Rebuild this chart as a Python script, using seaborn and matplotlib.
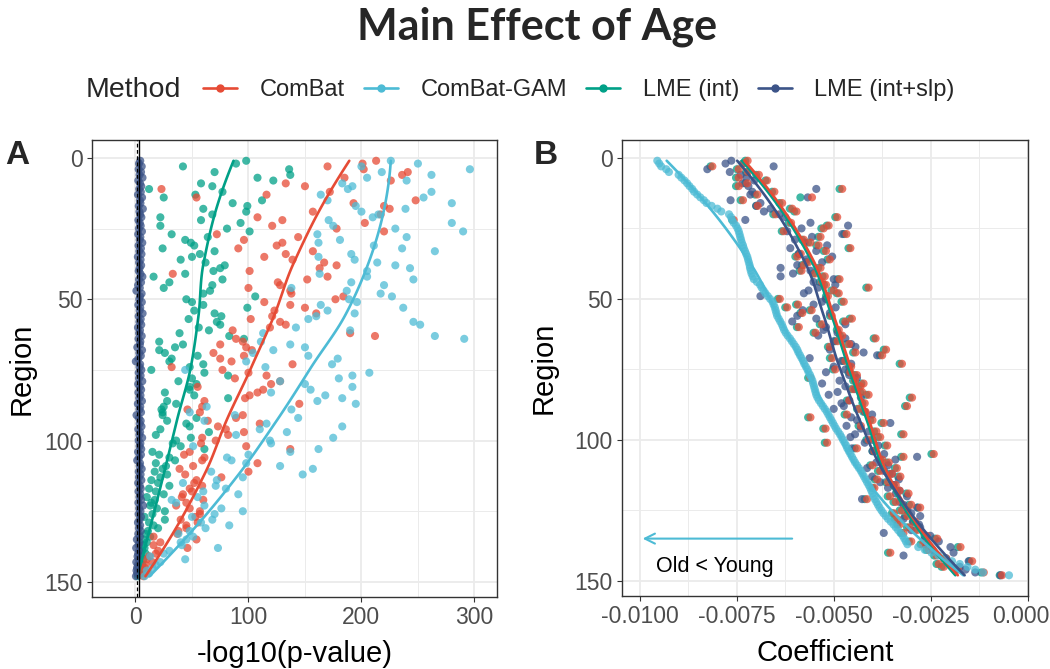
import numpy as np
import pandas as pd
import matplotlib
matplotlib.use("Agg")
import matplotlib.pyplot as plt
import seaborn as sns
from matplotlib.lines import Line2D

# ---------------- data ----------------
methods = ["ComBat", "ComBat-GAM", "LME (int)", "LME (int+slp)"]
palette = {"ComBat": "#E64B35", "ComBat-GAM": "#4DBBD5",
           "LME (int)": "#00A087", "LME (int+slp)": "#3C5488"}
regions = list(range(1, 149))

# Panel A: -log10(p-value)
p_combat = [213, 201, 170, 202, 241, 236, 185, 226, 133, 150,
            23, 172, 116, 54, 248, 193, 220, 225, 157, 217,
            108, 130, 203, 121, 178, 220, 72, 144, 96, 130,
            125, 91, 157, 133, 114, 139, 167, 178, 163, 101,
            33, 170, 152, 126, 128, 100, 137, 138, 184, 177,
            114, 137, 150, 123, 160, 121, 102, 128, 133, 119,
            86, 190, 212, 89, 95, 75, 98, 103, 69, 96,
            75, 85, 139, 32, 77, 100, 116, 88, 128, 120,
            55, 113, 108, 101, 97, 61, 145, 59, 46, 57,
            95, 89, 64, 110, 73, 80, 96, 82, 59, 71,
            58, 98, 137, 48, 43, 61, 59, 108, 51, 39,
            100, 44, 76, 54, 52, 59, 48, 50, 42, 41,
            60, 45, 36, 48, 57, 57, 53, 40, 55, 45,
            45, 38, 37, 16, 54, 22, 16, 46, 20, 18,
            12, 10, 15, 9, 8, 6, 11, 7]
p_gam = [226, 250, 200, 296, 218, 262, 205, 240, 183, 192,
         188, 262, 164, 255, 170, 280, 195, 239, 200, 215,
         210, 171, 280, 175, 230, 290, 161, 240, 181, 162,
         211, 236, 265, 191, 162, 194, 214, 230, 243, 205,
         163, 205, 246, 191, 220, 138, 187, 217, 227, 189,
         196, 164, 237, 170, 194, 160, 153, 246, 252, 142,
         190, 113, 265, 291, 111, 137, 150, 122, 104, 153,
         179, 98, 174, 115, 44, 207, 192, 180, 128, 150,
         192, 155, 120, 168, 183, 161, 195, 63, 138, 48,
         88, 144, 61, 116, 183, 110, 134, 89, 175, 119,
         120, 51, 162, 137, 100, 81, 85, 98, 128, 157,
         67, 148, 95, 72, 42, 71, 80, 60, 91, 55,
         32, 36, 61, 76, 95, 70, 50, 68, 58, 83,
         62, 48, 38, 51, 45, 40, 41, 73, 30, 25,
         13, 44, 22, 18, 15, 10, 12, 8]
p_lme_int = [98, 89, 42, 136, 70, 137, 108, 122, 58, 68,
             12, 77, 53, 25, 112, 86, 99, 60, 98, 68,
             22, 58, 93, 22, 81, 101, 32, 64, 44, 49,
             52, 24, 70, 57, 50, 40, 62, 79, 75, 69,
             44, 16, 77, 30, 68, 25, 66, 60, 106, 45,
             50, 60, 99, 52, 70, 76, 47, 72, 75, 56,
             65, 39, 83, 96, 21, 42, 35, 21, 26, 55,
             32, 30, 60, 48, 14, 61, 82, 50, 38, 54,
             48, 48, 26, 52, 82, 28, 36, 25, 23, 24,
             24, 54, 28, 45, 48, 22, 65, 18, 49, 36,
             33, 40, 61, 15, 21, 30, 35, 18, 27, 24,
             17, 28, 22, 14, 20, 30, 12, 18, 25, 10,
             17, 14, 13, 19, 26, 15, 8, 26, 12, 16,
             20, 11, 9, 13, 7, 10, 7, 8, 6, 9,
             5, 7, 4, 6, 3, 4, 5, 2]
p_lme_slp = [4.2, 3.1, 5.5, 2.8, 4.9, 3.6, 6.2, 2.5, 4.0, 5.1,
             3.3, 4.7, 2.2, 5.8, 3.9, 4.4, 2.9, 6.5, 3.5, 4.1,
             5.2, 2.6, 3.8, 4.6, 3.0, 5.7, 2.4, 4.3, 3.7, 6.0,
             2.7, 4.8, 3.4, 5.3, 2.1, 4.5, 3.2, 5.0, 3.6, 2.9,
             4.4, 6.1, 3.1, 4.9, 2.3, 3.8, 0.8, 5.4, 4.0, 3.3,
             5.6, 2.5, 4.2, 3.7, 6.3, 2.8, 4.6, 3.5, 5.1, 2.2,
             4.0, 3.2, 5.5, 2.7, 4.3, 3.9, 1.6, 5.8, 3.4, 4.7,
             2.6, 0.3, 4.1, 3.6, 5.2, 2.9, 4.5, 3.1, 6.0, 2.4,
             3.8, 5.0, 2.6, 4.4, 3.3, 5.7, 2.1, 4.2, 3.5, 4.9,
             0.9, 3.0, 4.6, 3.7, 5.3, 2.5, 4.1, 3.4, 5.9, 2.8,
             4.3, 3.6, 5.1, 2.3, 4.8, 3.2, 1.5, 4.0, 3.7, 5.5,
             2.9, 4.5, 3.1, 5.2, 2.4, 3.8, 4.7, 2.7, 4.2, 3.5,
             5.0, 2.6, 6.8, 3.3, 4.4, 2.8, 4.9, 3.6, 2.2, 4.1,
             3.0, 4.6, 2.5, 3.9, 1.2, 3.4, 2.7, 0.6, 3.2, 2.4,
             1.8, 2.9, 0.7, 2.2, 1.4, 0.9, 1.6, 0.4]

# Panel B: coefficient
c_combat = [-0.00722, -0.00732, -0.00813, -0.00745, -0.00721, -0.00693, -0.00745, -0.00672, -0.00723, -0.00745,
            -0.00478, -0.00653, -0.00697, -0.00556, -0.00734, -0.00633, -0.00696, -0.00607, -0.00596, -0.00650,
            -0.00491, -0.00758, -0.00610, -0.00513, -0.00526, -0.00629, -0.00467, -0.00534, -0.00577, -0.00560,
            -0.00539, -0.00457, -0.00520, -0.00585, -0.00594, -0.00510, -0.00565, -0.00577, -0.00534, -0.00583,
            -0.00548, -0.00523, -0.00485, -0.00530, -0.00520, -0.00410, -0.00500, -0.00487, -0.00515, -0.00639,
            -0.00474, -0.00592, -0.00620, -0.00557, -0.00581, -0.00505, -0.00453, -0.00470, -0.00530, -0.00590,
            -0.00487, -0.00547, -0.00478, -0.00392, -0.00490, -0.00460, -0.00510, -0.00365, -0.00444, -0.00375,
            -0.00504, -0.00470, -0.00324, -0.00455, -0.00496, -0.00457, -0.00440, -0.00560, -0.00445, -0.00423,
            -0.00431, -0.00450, -0.00427, -0.00410, -0.00298, -0.00460, -0.00420, -0.00311, -0.00435, -0.00418,
            -0.00466, -0.00560, -0.00400, -0.00371, -0.00430, -0.00521, -0.00390, -0.00320, -0.00380, -0.00410,
            -0.00517, -0.00362, -0.00440, -0.00395, -0.00242, -0.00320, -0.00375, -0.00358, -0.00400, -0.00337,
            -0.00380, -0.00350, -0.00328, -0.00388, -0.00360, -0.00340, -0.00395, -0.00330, -0.00307, -0.00355,
            -0.00414, -0.00340, -0.00300, -0.00277, -0.00324, -0.00345, -0.00310, -0.00337, -0.00290, -0.00330,
            -0.00305, -0.00285, -0.00320, -0.00260, -0.00233, -0.00300, -0.00270, -0.00173, -0.00255, -0.00354,
            -0.00235, -0.00210, -0.00143, -0.00229, -0.00216, -0.00180, -0.00113, -0.00066]
c_gam = [-0.00955, -0.00950, -0.00945, -0.00932, -0.00925, -0.00900, -0.00893, -0.00885, -0.00878, -0.00872,
         -0.00865, -0.00860, -0.00852, -0.00844, -0.00835, -0.00828, -0.00815, -0.00800, -0.00790, -0.00770,
         -0.00765, -0.00762, -0.00758, -0.00752, -0.00748, -0.00745, -0.00743, -0.00741, -0.00739, -0.00737,
         -0.00734, -0.00732, -0.00729, -0.00726, -0.00723, -0.00721, -0.00719, -0.00717, -0.00716, -0.00714,
         -0.00712, -0.00709, -0.00706, -0.00698, -0.00690, -0.00686, -0.00681, -0.00676, -0.00670, -0.00664,
         -0.00658, -0.00655, -0.00652, -0.00650, -0.00648, -0.00646, -0.00642, -0.00638, -0.00634, -0.00631,
         -0.00628, -0.00624, -0.00619, -0.00613, -0.00608, -0.00603, -0.00598, -0.00594, -0.00591, -0.00587,
         -0.00583, -0.00579, -0.00576, -0.00572, -0.00568, -0.00565, -0.00561, -0.00558, -0.00555, -0.00553,
         -0.00551, -0.00549, -0.00547, -0.00545, -0.00542, -0.00538, -0.00533, -0.00528, -0.00523, -0.00518,
         -0.00514, -0.00510, -0.00506, -0.00502, -0.00498, -0.00494, -0.00489, -0.00484, -0.00480, -0.00476,
         -0.00472, -0.00468, -0.00465, -0.00461, -0.00457, -0.00453, -0.00449, -0.00445, -0.00440, -0.00435,
         -0.00430, -0.00426, -0.00422, -0.00418, -0.00414, -0.00410, -0.00406, -0.00403, -0.00400, -0.00397,
         -0.00394, -0.00390, -0.00386, -0.00382, -0.00377, -0.00372, -0.00366, -0.00360, -0.00353, -0.00346,
         -0.00340, -0.00334, -0.00328, -0.00322, -0.00318, -0.00314, -0.00310, -0.00282, -0.00265, -0.00248,
         -0.00230, -0.00212, -0.00195, -0.00175, -0.00155, -0.00135, -0.00115, -0.00048]
c_lme_int = [-0.00728, -0.00735, -0.00818, -0.00750, -0.00726, -0.00700, -0.00752, -0.00676, -0.00728, -0.00752,
             -0.00485, -0.00659, -0.00703, -0.00586, -0.00740, -0.00640, -0.00700, -0.00613, -0.00602, -0.00656,
             -0.00496, -0.00762, -0.00616, -0.00518, -0.00532, -0.00634, -0.00473, -0.00540, -0.00582, -0.00566,
             -0.00545, -0.00462, -0.00526, -0.00590, -0.00599, -0.00516, -0.00571, -0.00582, -0.00540, -0.00588,
             -0.00553, -0.00529, -0.00490, -0.00536, -0.00525, -0.00416, -0.00506, -0.00492, -0.00520, -0.00644,
             -0.00480, -0.00597, -0.00625, -0.00562, -0.00586, -0.00510, -0.00459, -0.00476, -0.00536, -0.00595,
             -0.00492, -0.00552, -0.00484, -0.00397, -0.00496, -0.00466, -0.00515, -0.00371, -0.00450, -0.00381,
             -0.00510, -0.00476, -0.00330, -0.00460, -0.00502, -0.00462, -0.00446, -0.00566, -0.00450, -0.00429,
             -0.00436, -0.00455, -0.00432, -0.00416, -0.00304, -0.00466, -0.00426, -0.00316, -0.00440, -0.00424,
             -0.00472, -0.00566, -0.00406, -0.00377, -0.00436, -0.00527, -0.00396, -0.00326, -0.00386, -0.00416,
             -0.00523, -0.00368, -0.00446, -0.00400, -0.00248, -0.00326, -0.00380, -0.00364, -0.00406, -0.00342,
             -0.00386, -0.00356, -0.00334, -0.00394, -0.00366, -0.00346, -0.00400, -0.00336, -0.00313, -0.00361,
             -0.00420, -0.00346, -0.00306, -0.00283, -0.00330, -0.00350, -0.00316, -0.00343, -0.00296, -0.00336,
             -0.00311, -0.00291, -0.00326, -0.00266, -0.00239, -0.00306, -0.00276, -0.00180, -0.00261, -0.00360,
             -0.00241, -0.00216, -0.00150, -0.00235, -0.00222, -0.00186, -0.00120, -0.00072]
c_lme_slp = [-0.00764, -0.00779, -0.00655, -0.00826, -0.00768, -0.00740, -0.00725, -0.00705, -0.00735, -0.00720,
             -0.00545, -0.00710, -0.00715, -0.00567, -0.00766, -0.00689, -0.00700, -0.00663, -0.00680, -0.00640,
             -0.00625, -0.00728, -0.00560, -0.00463, -0.00583, -0.00620, -0.00478, -0.00556, -0.00600, -0.00575,
             -0.00517, -0.00612, -0.00545, -0.00590, -0.00504, -0.00570, -0.00530, -0.00594, -0.00637, -0.00560,
             -0.00605, -0.00637, -0.00500, -0.00552, -0.00496, -0.00540, -0.00565, -0.00577, -0.00689, -0.00520,
             -0.00530, -0.00552, -0.00495, -0.00580, -0.00510, -0.00594, -0.00545, -0.00607, -0.00470, -0.00520,
             -0.00526, -0.00490, -0.00540, -0.00470, -0.00500, -0.00455, -0.00444, -0.00510, -0.00423, -0.00388,
             -0.00562, -0.00480, -0.00455, -0.00500, -0.00470, -0.00520, -0.00460, -0.00440, -0.00485, -0.00530,
             -0.00470, -0.00445, -0.00490, -0.00513, -0.00430, -0.00460, -0.00480, -0.00474, -0.00500, -0.00420,
             -0.00401, -0.00455, -0.00440, -0.00354, -0.00467, -0.00430, -0.00410, -0.00445, -0.00457, -0.00400,
             -0.00420, -0.00385, -0.00453, -0.00400, -0.00370, -0.00285, -0.00341, -0.00390, -0.00360, -0.00414,
             -0.00370, -0.00350, -0.00401, -0.00332, -0.00380, -0.00345, -0.00360, -0.00330, -0.00340, -0.00311,
             -0.00427, -0.00330, -0.00320, -0.00285, -0.00310, -0.00300, -0.00277, -0.00320, -0.00295, -0.00280,
             -0.00277, -0.00300, -0.00371, -0.00251, -0.00265, -0.00229, -0.00260, -0.00199, -0.00245, -0.00191,
             -0.00320, -0.00210, -0.00152, -0.00200, -0.00175, -0.00160, -0.00135, -0.00070]

x_ticks_a = [0, 100, 200, 300]
x_ticks_b = [-0.0100, -0.0075, -0.0050, -0.0025, 0.0]
x_ticklabels_b = ["-0.0100", "-0.0075", "-0.0050", "-0.0025", "0.0000"]
y_ticks = [0, 50, 100, 150]
bonferroni = -np.log10(0.05 / len(regions))
nominal = -np.log10(0.05)

# ---------------- helpers ----------------
def _local_fit(x, y, g, q):
    d = np.abs(x - g)
    h = np.sort(d)[q - 1]
    w = np.clip(1 - (d / h) ** 3, 0, 1) ** 3
    X = np.vstack([np.ones_like(x), x - g, (x - g) ** 2]).T
    sw = np.sqrt(w)
    beta = np.linalg.lstsq(X * sw[:, None], y * sw, rcond=None)[0]
    return beta[0], beta[1]


def loess(x, y, span=0.75, n_out=120, cell=0.2):
    """loess (degree 2) evaluated at kd-tree vertices, cubic Hermite interpolation."""
    x = np.asarray(x, float)
    y = np.asarray(y, float)
    q = int(np.floor(span * len(x)))
    fc = int(np.floor(len(x) * span * cell))
    verts = {x.min(), x.max()}

    def split(pts):
        if len(pts) > fc:
            m = np.median(pts)
            verts.add(m)
            split(pts[pts <= m])
            split(pts[pts > m])

    split(np.sort(x))
    v = np.array(sorted(verts))
    vals, slopes = zip(*[_local_fit(x, y, g, q) for g in v])
    vals, slopes = np.array(vals), np.array(slopes)
    grid = np.linspace(x.min(), x.max(), n_out)
    out = []
    for g in grid:
        i = min(np.searchsorted(v, g, side="right") - 1, len(v) - 2)
        h = v[i + 1] - v[i]
        t = (g - v[i]) / h
        h00 = 2 * t**3 - 3 * t**2 + 1
        h10 = t**3 - 2 * t**2 + t
        h01 = -2 * t**3 + 3 * t**2
        h11 = t**3 - t**2
        out.append(h00 * vals[i] + h10 * h * slopes[i] + h01 * vals[i + 1] + h11 * h * slopes[i + 1])
    return grid, np.array(out)


def long_frame(series):
    rows = []
    for m, vals in series.items():
        rows.append(pd.DataFrame({"Region": regions, "value": vals, "Method": m}))
    return pd.concat(rows, ignore_index=True)


sns.set_theme(style="white")
plt.rcParams["font.family"] = ["Liberation Sans", "DejaVu Sans"]

W, H = 1050, 669
fig = plt.figure(figsize=(W / 100, H / 100), dpi=100)

def px_axes(l, t, r, b):
    return fig.add_axes([l / W, 1 - b / H, (r - l) / W, (b - t) / H])

axA = px_axes(92, 140, 497, 597)
axB = px_axes(622, 140, 1028, 596)

draw_order = ["LME (int)", "LME (int+slp)", "ComBat", "ComBat-GAM"]
dataA = {"ComBat": p_combat, "ComBat-GAM": p_gam, "LME (int)": p_lme_int, "LME (int+slp)": p_lme_slp}
dataB = {"ComBat": c_combat, "ComBat-GAM": c_gam, "LME (int)": c_lme_int, "LME (int+slp)": c_lme_slp}

grid_col = "#EBEBEB"
for ax, data in [(axA, dataA), (axB, dataB)]:
    df = long_frame({m: data[m] for m in draw_order})
    sns.scatterplot(data=df, x="value", y="Region", hue="Method", palette=palette,
                    hue_order=draw_order, s=34, alpha=0.75, linewidth=0, legend=False,
                    ax=ax, zorder=3)
    for m in ["LME (int)", "ComBat", "ComBat-GAM", "LME (int+slp)"]:
        g, f = loess(regions, data[m])
        sns.lineplot(x=f, y=g, sort=False, estimator=None, color=palette[m],
                     linewidth=1.9, ax=ax, zorder=4)
    ax.set_ylim(155.35, -6.35)
    ax.set_yticks(y_ticks)
    ax.set_yticks([25, 75, 125], minor=True)
    ax.grid(which="major", color=grid_col, linewidth=1.3, zorder=0)
    ax.grid(which="minor", color=grid_col, linewidth=0.7, zorder=0)
    ax.set_axisbelow(True)
    for sp in ax.spines.values():
        sp.set_visible(True)
        sp.set_color("#333333")
        sp.set_linewidth(1.0)
    ax.tick_params(which="major", direction="out", length=3.5, width=0.8, color="#333333",
                   labelsize=16.5, labelcolor="#4D4D4D", pad=3, bottom=True, left=True)
    ax.tick_params(which="minor", length=0, bottom=False, left=False)
    ax.set_ylabel("Region", fontsize=21, color="black")
    ax.yaxis.label.set_va("center")

# Panel A specifics
axA.set_xlim(-38.5, 320)
axA.set_xticks(x_ticks_a)
axA.set_xticks([50, 150, 250], minor=True)
axA.axvline(nominal, color="black", linestyle=(0, (3, 2)), linewidth=0.9, zorder=5)
axA.axvline(bonferroni, color="black", linewidth=1.0, zorder=5)
axA.set_xlabel("-log10(p-value)", fontsize=21, color="black")
axA.xaxis.set_label_coords(0.5, -0.125)
axA.xaxis.label.set_va("center")
axA.yaxis.set_label_coords(-0.173, 0.5)

# Panel B specifics
axB.set_xlim(-0.01046, 0.00001)
axB.set_xticks(x_ticks_b)
axB.set_xticklabels(x_ticklabels_b)
axB.set_xticks([-0.00875, -0.00625, -0.00375, -0.00125], minor=True)
axB.set_xlabel("Coefficient", fontsize=21, color="black")
axB.xaxis.set_label_coords(0.5, -0.125)
axB.xaxis.label.set_va("center")
axB.yaxis.set_label_coords(-0.192, 0.5)
axB.annotate("", xy=(-0.0100, 135), xytext=(-0.0060, 135),
             arrowprops=dict(arrowstyle="->,head_length=0.6,head_width=0.3",
                             color="#4DBBD5", lw=1.5), zorder=6)
axB.text(-0.009595, 145, "Old < Young", fontsize=15.5, color="black", va="center", ha="left")

# Panel tags
fig.text(5 / W, 1 - 156 / H, "A", fontsize=24, fontweight="bold", va="center", ha="left")
fig.text(534 / W, 1 - 156 / H, "B", fontsize=24, fontweight="bold", va="center", ha="left")

# Title
fig.text(537 / W, 1 - 27 / H, "Main Effect of Age", fontsize=31, fontweight="bold",
         family=["Lato", "DejaVu Sans"], ha="center", va="center")

# Legend
fig.text(86 / W, 1 - 90 / H, "Method", fontsize=20.5, va="center", ha="left")
handles = [Line2D([0], [0], color=palette[m], lw=1.9, marker="o", markersize=5) for m in methods]
fig.legend(handles, methods, loc="center left", bbox_to_anchor=(203 / W, 1 - 90 / H),
           ncol=4, frameon=False, fontsize=17, handlelength=1.45, handletextpad=0.95,
           columnspacing=0.8, borderpad=0, borderaxespad=0)

fig.savefig("out.png", dpi=100)
